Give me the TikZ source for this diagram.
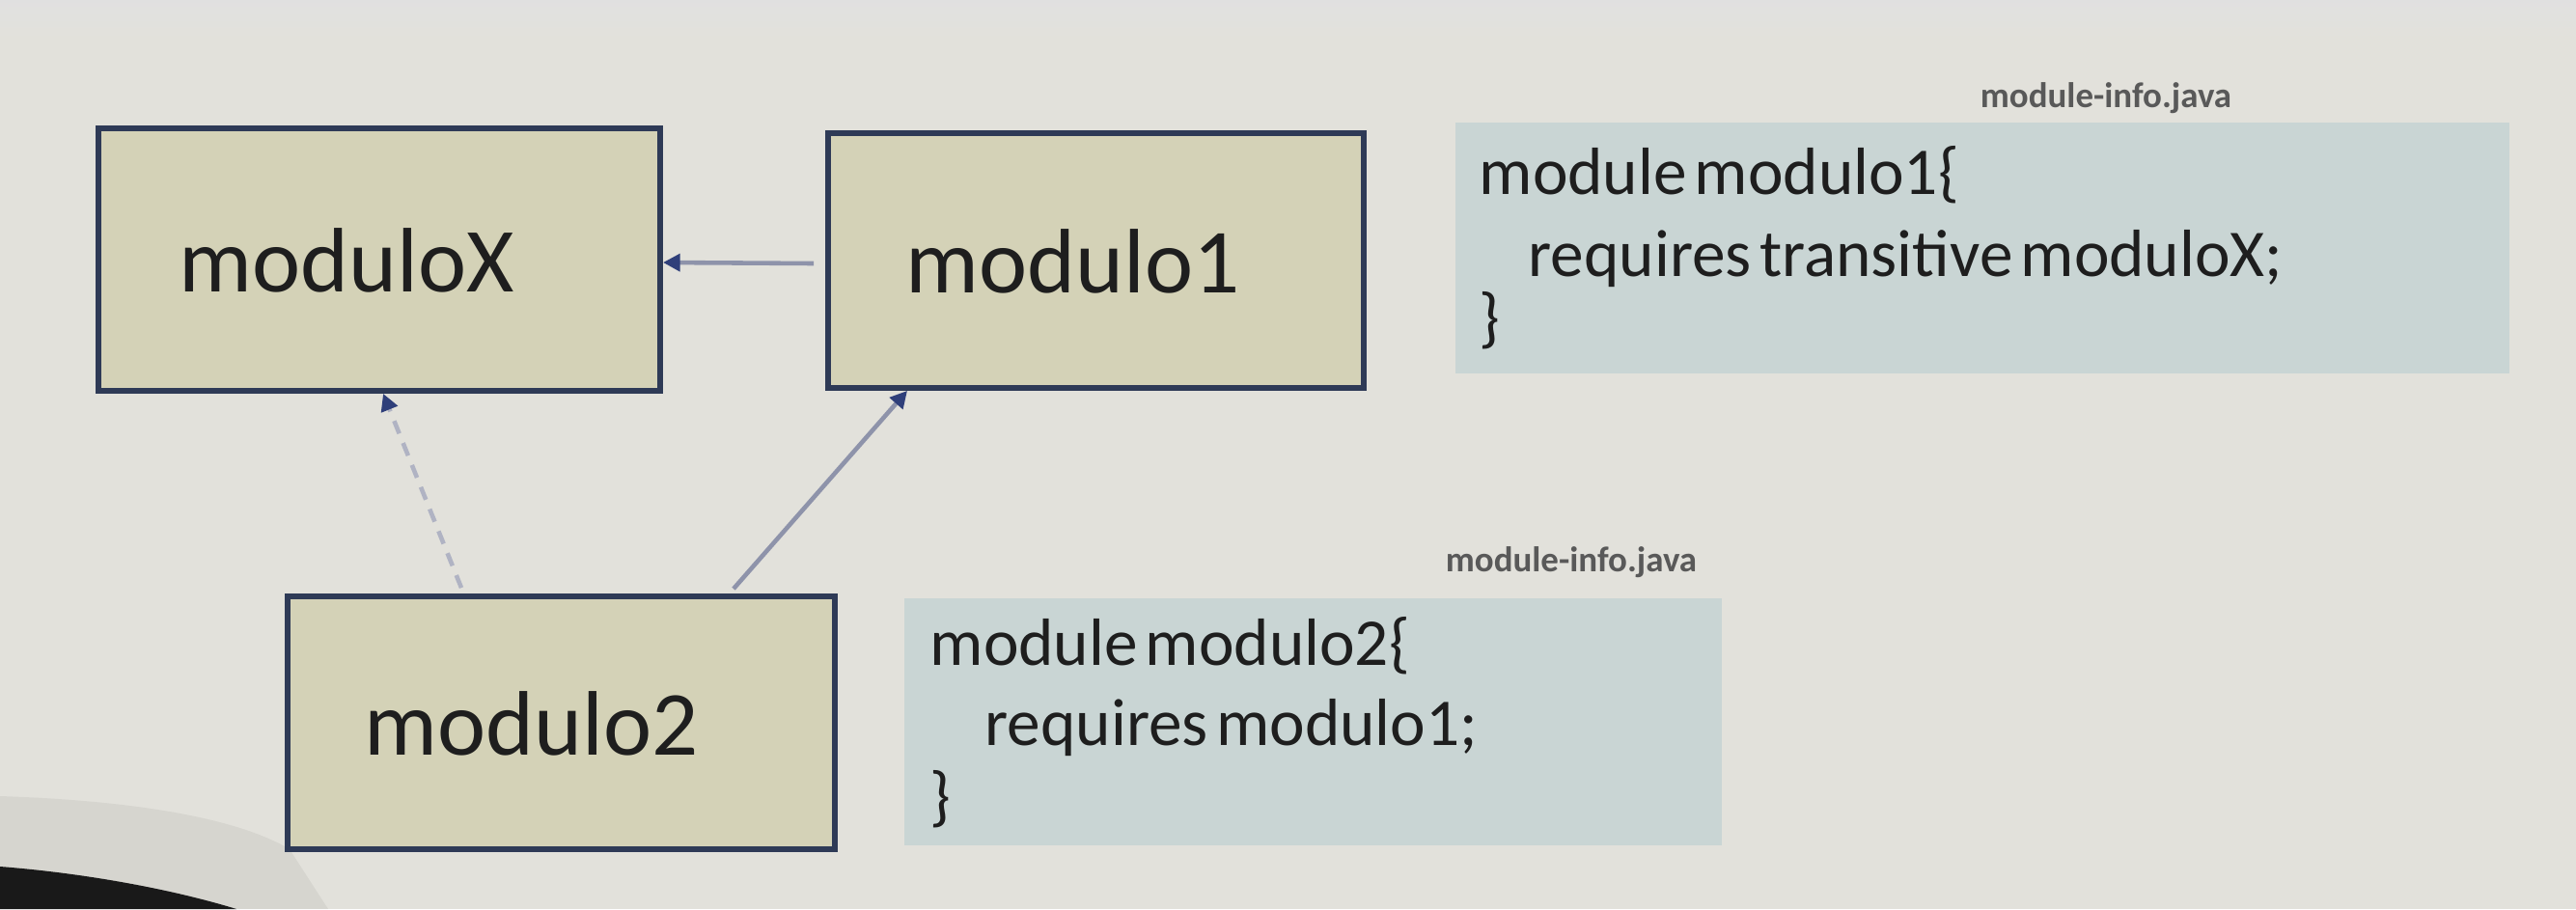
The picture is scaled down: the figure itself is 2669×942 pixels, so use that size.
\documentclass[tikz,border=0pt]{standalone}
\usepackage{fontspec}
\setmainfont{Carlito}
\usetikzlibrary{arrows.meta}
\definecolor{bgc}{HTML}{E2E1DB}
\definecolor{boxfill}{HTML}{D4D2B7}
\definecolor{boxline}{HTML}{2E3A56}
\definecolor{codefill}{HTML}{C9D5D4}
\definecolor{connc}{HTML}{8E93AA}
\definecolor{tipc}{HTML}{2F3F7A}
\definecolor{txtc}{HTML}{1E1E1E}
\newcommand{\mycodefont}{\fontsize{19.7}{24}\selectfont\spaceskip 0.12em\relax}
\tikzset{
  modbox/.style={draw=boxline, line width=1.6pt, fill=boxfill, rectangle, inner sep=0pt},
  codebox/.style={fill=codefill, rectangle, inner sep=0pt},
  modlabel/.style={anchor=base west, inner sep=0pt, font=\fontsize{27}{30}\selectfont, text=txtc},
  codeline/.style={anchor=base west, inner sep=0pt, font=\mycodefont, text=txtc},
  filelabel/.style={anchor=center, inner sep=0pt, font=\bfseries\fontsize{10.5}{12}\selectfont, text=black!65},
  conn/.style={draw=connc, line width=1.3pt, -{Triangle[length=5pt,width=5pt,color=tipc,fill=tipc]}},
  dconn/.style={conn, draw=connc!70, dash pattern=on 4pt off 3pt}
}
\begin{document}
\begin{tikzpicture}[x=0.01cm, y=-0.01cm]
\useasboundingbox (0,0) rectangle (2669,942);
% background
\fill[bgc] (0,0) rectangle (2669,942);
\shade[top color=black!12, bottom color=bgc] (0,0) rectangle (2669,40);
\fill[black, opacity=0.05] (0,825) .. controls (150,830) and (250,850) .. (300,880) -- (340,942) -- (0,942) -- cycle;
\fill[black!90] (0,898) .. controls (90,905) and (180,922) .. (245,942) -- (0,942) -- cycle;

% module boxes
\node[modbox, minimum width=5.82cm, minimum height=2.72cm] (mx) at (393,269) {};
\node[modbox, minimum width=5.55cm, minimum height=2.64cm] (m1) at (1135.5,270) {};
\node[modbox, minimum width=5.67cm, minimum height=2.62cm] (m2) at (581.5,749) {};
\node[modlabel] (mxt) at (185,302) {moduloX};
\node[modlabel] (m1t) at (938,303) {modulo1};
\node[modlabel] (m2t) at (377,782) {modulo2};

% code boxes
\node[codebox, minimum width=10.92cm, minimum height=2.60cm] (c1) at (2054,257) {};
\node[codebox, minimum width=8.47cm, minimum height=2.56cm] (c2) at (1360.5,748) {};
\node[filelabel] (f1) at (2182,102) {module-info.java};
\node[filelabel] (f2) at (1628,583) {module-info.java};

\node[codeline] (c1a) at (1532,201) {module modulo1\{};
\node[codeline] (c1b) at (1583,286) {requires transitive moduloX;};
\node[codeline] (c1c) at (1532,352) {\}};
\node[codeline] (c2a) at (963,689) {module modulo2\{};
\node[codeline] (c2b) at (1020,772) {requires modulo1;};
\node[codeline] (c2c) at (963,848) {\}};

% connectors
\draw[conn] ([shift={(-12,3)}]m1.west) -- ([shift={(0,3)}]mx.east);
\draw[dconn] ([shift={(183,-6)}]m2.north west) -- ([shift={(298,0)}]mx.south west);
\draw[conn] ([shift={(465,-5)}]m2.north west) -- ([shift={(85,0)}]m1.south west);
\end{tikzpicture}
\end{document}
